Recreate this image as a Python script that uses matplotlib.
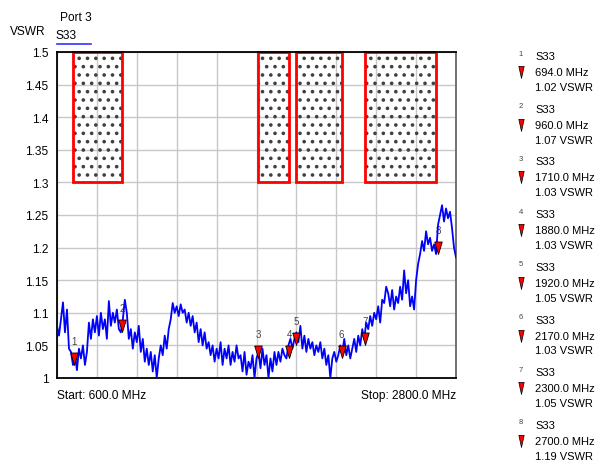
import numpy as np
import matplotlib
matplotlib.use("Agg")
import matplotlib.pyplot as plt
from matplotlib.patches import Rectangle

plt.rcParams['font.family'] = ['Liberation Sans', 'DejaVu Sans']
plt.rcParams['hatch.linewidth'] = 1.4

# S33 trace (600 -> 2800 MHz, evenly spaced)
vswr = [
    1.08, 1.065, 1.09, 1.116,
    1.07, 1.105, 1.045,
    1.04, 1.02, 1.035, 1.012, 1.045, 1.03, 1.05, 1.02,
    1.04,
    1.085, 1.06, 1.09, 1.07, 1.095, 1.065, 1.1, 1.075, 1.09, 1.06, 1.118,
    1.08, 1.1, 1.085, 1.105, 1.075, 1.07,
    1.09, 1.12, 1.1, 1.06,
    1.075, 1.045, 1.07, 1.055, 1.08, 1.04, 1.06, 1.025,
    1.045, 1.02, 1.04, 1.01, 1.035, 1.0, 1.03,
    1.05, 1.035, 1.065, 1.045, 1.075,
    1.09, 1.115, 1.1, 1.11, 1.095, 1.113, 1.1,
    1.105, 1.085, 1.1, 1.08, 1.095,
    1.07, 1.085, 1.055, 1.075, 1.05, 1.07, 1.045,
    1.055, 1.035, 1.05, 1.025, 1.045, 1.03,
    1.055, 1.02, 1.045, 1.03, 1.05, 1.02, 1.04, 1.025, 1.05, 1.03,
    1.035, 1.01, 1.04, 1.005, 1.025, 1.015, 1.035, 1.0,
    1.03, 1.04, 1.015, 1.045, 1.02,
    1.035, 1.0, 1.03, 1.01, 1.04,
    1.02, 1.04, 1.025, 1.045, 1.035, 1.03,
    1.05, 1.06, 1.045, 1.06,
    1.07, 1.055, 1.08, 1.045, 1.065, 1.04, 1.06,
    1.045, 1.055, 1.035, 1.05, 1.04, 1.055, 1.03, 1.045,
    1.02, 1.035, 1.0, 1.03, 1.04, 1.025,
    1.035, 1.05, 1.04, 1.06, 1.035, 1.05,
    1.03, 1.045, 1.06, 1.04,
    1.065, 1.05, 1.075, 1.06,
    1.085, 1.075, 1.095, 1.08, 1.1,
    1.09, 1.11, 1.085, 1.12, 1.115,
    1.14, 1.13,
    1.11, 1.135, 1.105, 1.125, 1.115,
    1.14, 1.12, 1.165, 1.13, 1.15,
    1.11, 1.125, 1.105,
    1.15, 1.175,
    1.19, 1.21, 1.195, 1.225, 1.205,
    1.215, 1.195, 1.205,
    1.19,
    1.235, 1.25, 1.265, 1.24, 1.26, 1.245,
    1.255, 1.23, 1.2, 1.185,
]
f_start, f_stop = 600.0, 2800.0
freq = np.linspace(f_start, f_stop, len(vswr))

# markers
mk_freq = [694.0, 960.0, 1710.0, 1880.0, 1920.0, 2170.0, 2300.0, 2700.0]
mk_vswr = [1.02, 1.07, 1.03, 1.03, 1.05, 1.03, 1.05, 1.19]

# limit masks (MHz)
mask_lo = [690.0, 1710.0, 1920.0, 2300.0]
mask_hi = [960.0, 1880.0, 2170.0, 2690.0]
mask_level = 1.3

W, H = 614, 477
fig = plt.figure(figsize=(W / 100, H / 100), dpi=100)
ax = fig.add_axes([57 / W, 1 - 379 / H, 399 / W, 326 / H])

def fx(x):
    return x / W

def fy(y):
    return 1 - y / H

fs = 8.6

ax.set_xlim(f_start, f_stop)
ax.set_ylim(1.0, 1.5)
ax.set_xticks(np.linspace(f_start, f_stop, 11))
ax.set_xticklabels([])
yt = np.linspace(1.0, 1.5, 11)
ax.set_yticks(yt)
ax.set_yticklabels(['{:g}'.format(round(v, 2)) for v in yt], fontsize=fs)
ax.tick_params(length=0, pad=6)
ax.grid(True, color='#c8c8c8', lw=1)
ax.set_axisbelow(True)
for s in ax.spines.values():
    s.set_color('black')
    s.set_linewidth(1.3)
ax.spines['right'].set_color('#666666')

for lo, hi in zip(mask_lo, mask_hi):
    ax.add_patch(Rectangle((lo, mask_level), hi - lo, 1.5 - mask_level,
                           facecolor='none', edgecolor='#404040', lw=0,
                           hatch='..', zorder=1.5))
    ax.add_patch(Rectangle((lo, mask_level), hi - lo, 1.5 - mask_level,
                           fill=False, edgecolor='#ff0000', lw=2, zorder=2,
                           clip_on=False))

ax.plot(freq, vswr, color='#0000ff', lw=1.3, zorder=3)

tri = [(-0.3, 1.0), (0.3, 1.0), (0.0, 0.0), (-0.3, 1.0)]
for i, (f, v) in enumerate(zip(mk_freq, mk_vswr)):
    ax.plot([f], [v], marker=tri, ms=18, color='#ff0000',
            markeredgecolor='black', markeredgewidth=0.6, zorder=4,
            linestyle='none')
    ax.annotate(str(i + 1), (f, v), xytext=(0, 17.5), textcoords='offset points',
                ha='center', va='center', fontsize=7, color='#444444', zorder=2.5)

# header texts
fig.text(fx(60), fy(18), 'Port 3', fontsize=fs, va='center', ha='left')
fig.text(fx(56), fy(36), 'S33', fontsize=fs, va='center', ha='left')
fig.add_artist(plt.Line2D([fx(57), fx(91)], [fy(45), fy(45)], color='#3333ff', lw=1.2))
fig.text(fx(10), fy(32), 'VSWR', fontsize=fs, va='center', ha='left')

fig.text(fx(57), fy(396), 'Start: %.1f MHz' % f_start, fontsize=fs, va='center', ha='left')
fig.text(fx(456), fy(396), 'Stop: %.1f MHz' % f_stop, fontsize=fs, va='center', ha='right')

# marker readout on the right
for i, (f, v) in enumerate(zip(mk_freq, mk_vswr)):
    y0 = 57 + 52.7 * i
    fig.text(fx(521), fy(y0 - 3), str(i + 1), fontsize=5.5, color='#444444',
             va='center', ha='center')
    fig.text(fx(535), fy(y0), 'S33', fontsize=8, va='center', ha='left')
    fig.text(fx(535), fy(y0 + 16), '%.1f MHz' % f, fontsize=8, va='center', ha='left')
    fig.text(fx(535), fy(y0 + 31), '%.2f VSWR' % v, fontsize=8, va='center', ha='left')
    fig.add_artist(plt.Line2D([fx(521)], [fy(y0 + 22)], marker=[(-0.22, 1.0), (0.22, 1.0), (0.0, 0.0), (-0.22, 1.0)],
                              ms=17.5, color='#ff0000', markeredgecolor='black',
                              markeredgewidth=0.5, linestyle='none'))

fig.savefig('out.png', dpi=100)
